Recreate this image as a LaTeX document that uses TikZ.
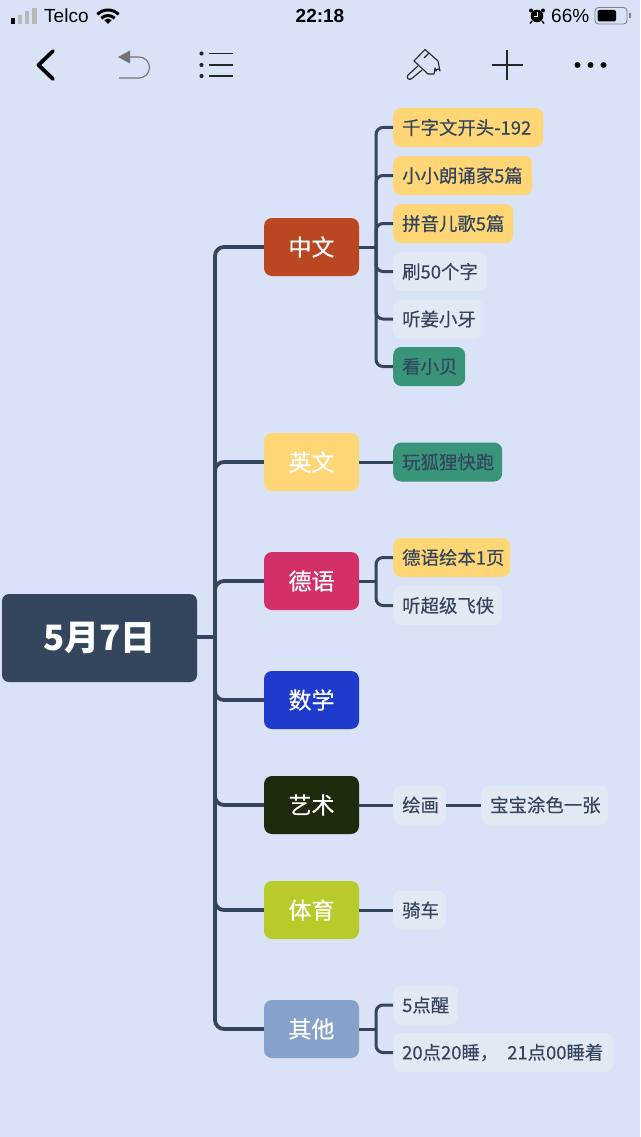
\documentclass[tikz,border=0pt]{standalone}
\usepackage{fontspec}
\setmainfont{Liberation Sans}
\newfontfamily\cjk[FakeBold=0.35]{Noto Sans CJK SC}
\newfontfamily\cjkroot{Noto Sans CJK SC}
\definecolor{pagebg}{HTML}{D9E2F6}
\definecolor{linkcol}{HTML}{34455E}
\definecolor{leafgrey}{HTML}{E3E9F3}
\definecolor{leafyellow}{HTML}{FFD675}
\definecolor{leafgreen}{HTML}{38957A}
\definecolor{zhongcol}{HTML}{BA4622}
\definecolor{yingcol}{HTML}{FFD675}
\definecolor{decol}{HTML}{D33069}
\definecolor{shucol}{HTML}{1F3BCB}
\definecolor{yicol}{HTML}{1E2A0C}
\definecolor{ticol}{HTML}{B8CB2B}
\definecolor{qicol}{HTML}{85A2CB}
\tikzset{
	rootbox/.style={fill=linkcol, text=white, rounded corners=7pt, minimum width=195pt, minimum height=88pt, font=\cjkroot\bfseries\fontsize{35}{38}\selectfont},
	topicbox/.style={fill=#1, text=white, rounded corners=8pt, minimum width=95pt, minimum height=58pt, font=\cjk\fontsize{23}{26}\selectfont},
	leafbox/.style={fill=leafgrey, text=linkcol, rounded corners=8pt, minimum height=39pt, inner xsep=9pt, anchor=west, align=left, font=\cjk\fontsize{18.4}{20}\selectfont},
	trunk/.style={draw=linkcol, line width=3.8pt, rounded corners=9pt},
	twig/.style={draw=linkcol, line width=3pt, rounded corners=7pt},
	bartext/.style={inner sep=0pt, text=black, font=\fontsize{19}{20}\selectfont},
}
\begin{document}
\begin{tikzpicture}[x=1pt, y=-1pt]
	\useasboundingbox[fill=pagebg] (0, 0) rectangle (640, 1137);

	% status bar
	\fill[black] (11, 18.5) rectangle (15, 24);
	\fill[gray!55] (18, 15) rectangle (22, 24);
	\fill[gray!55] (25, 11.5) rectangle (29, 24);
	\fill[gray!55] (32, 8) rectangle (37, 24);
	\node[bartext, anchor=west] (carrier) at (44, 16) {Telco};
	\draw[line width=3pt] ([shift={(-135:15)}] 108, 25) arc (-135:-45:15);
	\draw[line width=3pt] ([shift={(-135:9.5)}] 108, 25) arc (-135:-45:9.5);
	\fill (108, 24) -- ([shift={(-135:5.5)}] 108, 24) arc (-135:-45:5.5) -- cycle;
	\node[bartext, font=\bfseries\fontsize{19}{20}\selectfont] (clock) at (320, 16) {22:18};
	\fill (537, 16) circle (6.3);
	\fill (531, 10.5) circle (2);
	\fill (543, 10.5) circle (2);
	\draw[black, line width=1.4pt] (532, 21) -- (530, 23.5);
	\draw[black, line width=1.4pt] (542, 21) -- (544, 23.5);
	\draw[white, line width=1pt] (537, 12) -- (537, 16.5) -- (533.5, 16.5);
	\node[bartext, anchor=west] (percent) at (551, 16) {66\%};
	\draw[gray, line width=.9pt, rounded corners=3.5pt] (595, 7.5) rectangle (627, 24);
	\fill[black, rounded corners=2pt] (597.5, 10) rectangle (616, 21.5);
	\fill[gray] (629, 13) rectangle (631, 18.5);

	% tool bar
	\draw[line width=3.8pt, line cap=round, line join=round] (53, 51) -- (38.5, 65) -- (53, 79);
	\fill[gray!90!black] (118, 57) -- (130, 50.5) -- (130, 63.5) -- cycle;
	\draw[gray!90!black, line width=1.1pt] (130, 57) -- (139, 57) arc (-90:90:10.5) -- (119, 78);
	\foreach \y in {53.5, 65, 76} {
		\fill[black!85] (201.5, \y) circle (2.1);
		\draw[black!85, line width=1.2pt] (209, \y) -- (233, \y);
	}
	\draw[black!85, line width=1.1pt, line join=round] (414, 61) -- (425, 49.5) -- (438, 61) -- (440, 71) arc (0:-180:2) -- (435, 68) -- (434, 74) -- (428, 74) -- cycle;
	\draw[black!85, line width=1.1pt] (418, 66) -- (408, 75) arc (-135:-315:2.6) -- (422, 70);
	\draw[black!85, line width=1.1pt] (429, 53) -- (424, 58);
	\draw[black!85, line width=1.1pt] (491.5, 65) -- (522.5, 65);
	\draw[black!85, line width=1.1pt] (507, 50) -- (507, 80);
	\foreach \x in {577.5, 590.5, 603.5} {
		\fill (\x, 65) circle (3);
	}

	% root and topics
	\node[rootbox] (root) at (99.5, 638) {5月7日};
	\node[topicbox=zhongcol] (zhong) at (311.5, 247) {中文};
	\node[topicbox=yingcol] (ying) at (311.5, 462) {英文};
	\node[topicbox=decol] (de) at (311.5, 581) {德语};
	\node[topicbox=shucol] (shu) at (311.5, 700) {数学};
	\node[topicbox=yicol] (yi) at (311.5, 805) {艺术};
	\node[topicbox=ticol] (ti) at (311.5, 910) {体育};
	\node[topicbox=qicol] (qi) at (311.5, 1029) {其他};

	% leaves
	\node[leafbox, fill=leafyellow, text width=132pt] (qian) at (393, 127.5) {千字文开头-192};
	\node[leafbox, fill=leafyellow, text width=121pt] (lang) at (393, 175.5) {小小朗诵家5篇};
	\node[leafbox, fill=leafyellow, text width=102pt] (pin) at (393, 223.5) {拼音儿歌5篇};
	\node[leafbox, text width=76pt] (shua) at (393, 271.5) {刷50个字};
	\node[leafbox, text width=72pt] (jiang) at (393, 319) {听姜小牙};
	\node[leafbox, fill=leafgreen, text width=54pt] (bei) at (393, 366.5) {看小贝};
	\node[leafbox, fill=leafgreen, text width=91pt] (huli) at (393, 462) {玩狐狸快跑};
	\node[leafbox, fill=leafyellow, text width=99pt] (huiben) at (393, 557.5) {德语绘本1页};
	\node[leafbox, text width=91pt] (feixia) at (393, 605.5) {听超级飞侠};
	\node[leafbox, text width=35pt] (huihua) at (393, 805) {绘画};
	\node[leafbox, text width=109pt] (tuse) at (481, 805) {宝宝涂色一张};
	\node[leafbox, text width=35pt] (qiche) at (393, 910) {骑车};
	\node[leafbox, text width=47pt] (xing) at (393, 1005) {5点醒};
	\node[leafbox, text width=202pt] (shui) at (393, 1052.5) {\mbox{20点20睡，\hspace{9pt}21点00睡着}};

	% trunk
	\coordinate (spine) at (215, 637);
	\draw[trunk] (root.east |- spine) -- (spine);
	\draw[trunk] (spine) |- (zhong.west);
	\draw[trunk] (spine) |- (ying.west);
	\draw[trunk] (spine) |- (de.west);
	\draw[trunk] (spine) |- (shu.west);
	\draw[trunk] (spine) |- (yi.west);
	\draw[trunk] (spine) |- (ti.west);
	\draw[trunk] (spine) |- (qi.west);

	% twigs
	\coordinate (zhonghub) at (376, 247);
	\draw[twig] (zhong.east) -- (zhonghub);
	\draw[twig] (zhonghub) |- (qian.west);
	\draw[twig] (zhonghub) |- (lang.west);
	\draw[twig] (zhonghub) |- (pin.west);
	\draw[twig] (zhonghub) |- (shua.west);
	\draw[twig] (zhonghub) |- (jiang.west);
	\draw[twig] (zhonghub) |- (bei.west);
	\draw[twig] (ying.east) -- (huli.west);
	\coordinate (dehub) at (376, 581);
	\draw[twig] (de.east) -- (dehub);
	\draw[twig] (dehub) |- (huiben.west);
	\draw[twig] (dehub) |- (feixia.west);
	\draw[twig] (yi.east) -- (huihua.west);
	\draw[twig] (huihua.east) -- (tuse.west);
	\draw[twig] (ti.east) -- (qiche.west);
	\coordinate (qihub) at (376, 1029);
	\draw[twig] (qi.east) -- (qihub);
	\draw[twig] (qihub) |- (xing.west);
	\draw[twig] (qihub) |- (shui.west);
\end{tikzpicture}
\end{document}
